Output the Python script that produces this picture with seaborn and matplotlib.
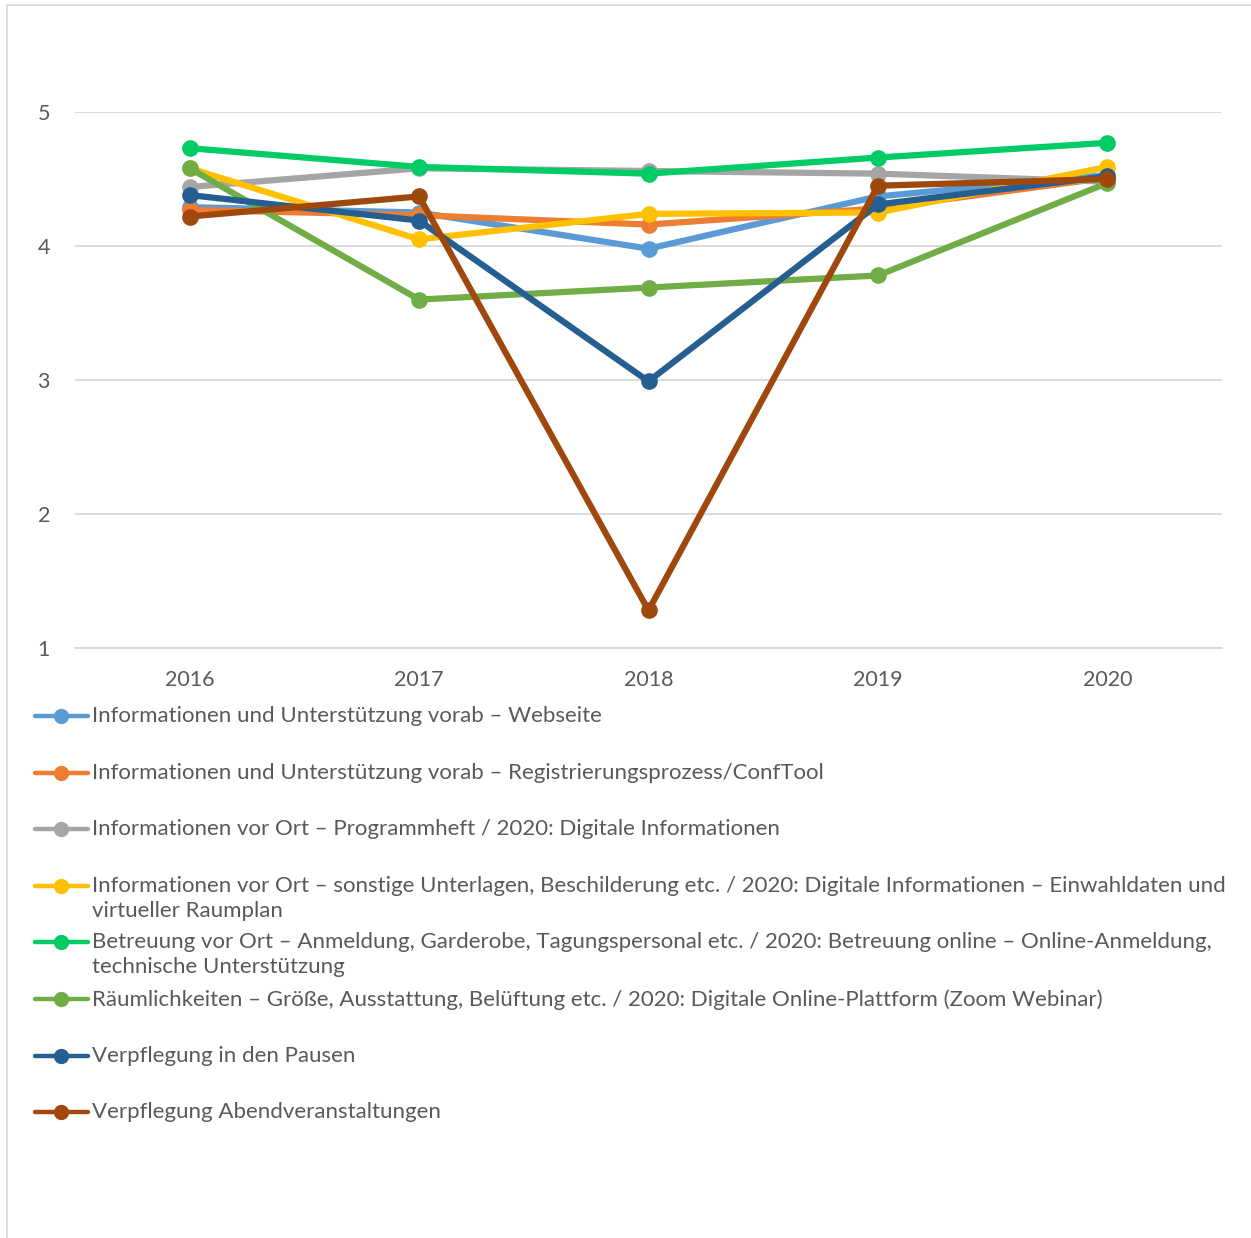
import matplotlib
matplotlib.use("Agg")
import matplotlib.pyplot as plt
from matplotlib.lines import Line2D
from matplotlib.patches import Rectangle
import seaborn as sns
import pandas as pd

years = [2016, 2017, 2018, 2019, 2020]
series_names = [
    "Informationen und Unterstützung vorab – Webseite",
    "Informationen und Unterstützung vorab – Registrierungsprozess/ConfTool",
    "Informationen vor Ort – Programmheft / 2020: Digitale Informationen",
    "Informationen vor Ort – sonstige Unterlagen, Beschilderung etc. / 2020: Digitale Informationen – Einwahldaten und\nvirtueller Raumplan",
    "Betreuung vor Ort – Anmeldung, Garderobe, Tagungspersonal etc. / 2020: Betreuung online – Online-Anmeldung,\ntechnische Unterstützung",
    "Räumlichkeiten – Größe, Ausstattung, Belüftung etc. / 2020: Digitale Online-Plattform (Zoom Webinar)",
    "Verpflegung in den Pausen",
    "Verpflegung Abendveranstaltungen",
]
webseite = [4.29, 4.25, 3.98, 4.37, 4.53]
registrierung = [4.27, 4.23, 4.16, 4.28, 4.51]
programmheft = [4.44, 4.58, 4.56, 4.54, 4.48]
unterlagen = [4.58, 4.05, 4.24, 4.25, 4.59]
betreuung = [4.73, 4.59, 4.54, 4.66, 4.77]
raeume = [4.58, 3.60, 3.69, 3.78, 4.47]
pausen = [4.38, 4.19, 2.99, 4.31, 4.52]
abend = [4.22, 4.37, 1.28, 4.45, 4.50]
colors = ["#5B9BD5", "#ED7D31", "#A5A5A5", "#FFC000", "#00CC66", "#70AD47", "#255E91", "#9E480E"]

values = [webseite, registrierung, programmheft, unterlagen, betreuung, raeume, pausen, abend]
rows = []
for name, vals in zip(series_names, values):
    for y, v in zip(years, vals):
        rows.append({"Jahr": y, "Wert": v, "Serie": name})
df = pd.DataFrame(rows)

sns.set_theme(style="white")
plt.rcParams["font.family"] = ["Lato", "DejaVu Sans"]

W, H = 1251, 1238
LW = 4.5
MS = 12
fig = plt.figure(figsize=(W / 100, H / 100), dpi=100)
ax = fig.add_axes([75 / W, 1 - 648 / H, (1222 - 75) / W, (648 - 112) / H])

palette = dict(zip(series_names, colors))
sns.lineplot(data=df, x="Jahr", y="Wert", hue="Serie", palette=palette,
             hue_order=series_names, marker="o", legend=False, ax=ax,
             clip_on=False, zorder=3, linewidth=LW, markersize=MS,
             markeredgewidth=0)
for ln in ax.lines:
    ln.set_linewidth(LW)
    ln.set_markersize(MS)
    ln.set_markeredgewidth(0)
    ln.set_solid_joinstyle("round")

ax.set_xlim(2015.5, 2020.5)
ax.set_ylim(1, 5)
ax.set_yticks([1, 2, 3, 4, 5])
ax.set_xticks(years)
ax.set_xticklabels([str(y) for y in years])
ax.yaxis.grid(True, color="#D9D9D9", linewidth=1.3)
ax.set_axisbelow(True)
for s in ["top", "right", "left"]:
    ax.spines[s].set_visible(False)
ax.spines["bottom"].set_color("#D9D9D9")
ax.spines["bottom"].set_linewidth(1.3)
ax.tick_params(axis="both", length=0, labelsize=15.5, colors="#595959")
ax.tick_params(axis="y", pad=18)
ax.tick_params(axis="x", pad=16)
ax.set_xlabel("")
ax.set_ylabel("")

# chart frame
fig.add_artist(Rectangle((7 / W, -0.1), 1.2, 1 - 5 / H + 0.1, transform=fig.transFigure,
                         fill=False, edgecolor="#D9D9D9", linewidth=1.3))

# legend (Excel style, fixed spacing)
y0 = 716
step = 56.6
for i, (name, c) in enumerate(zip(series_names, colors)):
    yp = 1 - (y0 + i * step) / H
    fig.add_artist(Line2D([35 / W, 88 / W], [yp, yp], transform=fig.transFigure,
                          color=c, linewidth=3.2, solid_capstyle="round"))
    fig.add_artist(Line2D([61 / W], [yp], transform=fig.transFigure, color=c,
                          marker="o", markersize=11, markeredgewidth=0))
    fig.text(92 / W, yp + 10 / H, name, ha="left", va="top", fontsize=16,
             color="#595959", linespacing=1.3)

fig.savefig("out.png", dpi=100, facecolor="white")
